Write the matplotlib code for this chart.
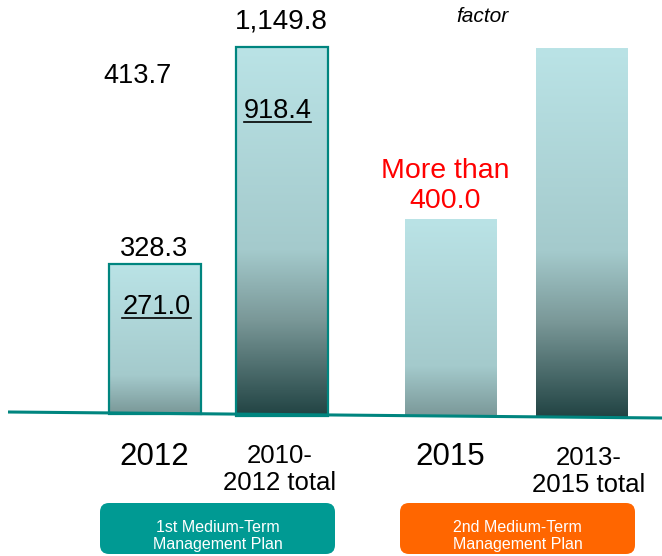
import numpy as np
import matplotlib
matplotlib.use("Agg")
import matplotlib.pyplot as plt
from matplotlib.colors import LinearSegmentedColormap
from matplotlib.patches import FancyBboxPatch
from matplotlib.lines import Line2D
from matplotlib.transforms import IdentityTransform

plt.rcParams['font.family'] = ['Liberation Sans', 'DejaVu Sans']

# chart data (bar heights as drawn in the picture, not to scale with labels)
categories = ["2012", "2010-\n2012 total", "2015", "2013-\n2015 total"]
bar_heights = [150, 369, 198, 370]
value_labels = ["328.3", "1,149.8", "", ""]
inner_labels = ["271.0", "918.4", "", ""]
plan_labels = ["1st Medium-Term\nManagement Plan", "2nd Medium-Term\nManagement Plan"]
target_label = "More than\n400.0"
side_label = "413.7"
note_label = "factor"

# layout (pixel-ish units, y measured up from the baseline)
x_pos = [154.5, 281.5, 451, 582]
bar_w = 92
has_border = [True, True, False, False]
grad_span = [0.74, 1.0, 0.74, 1.0]
TEAL = "#00857f"

def ypx(y):
    return 415 - y

fig = plt.figure(figsize=(6.62, 5.56), dpi=100)
ax = fig.add_axes([0, 0, 1, 1])
ax.set_xlim(0, 662)
ax.set_ylim(-141, 415)
ax.axis("off")

# slightly tilted baseline
line_x = [8, 662]
line_y = [ypx(412), ypx(418)]
bottoms = np.interp(x_pos, line_x, line_y) - 1

cmap = LinearSegmentedColormap.from_list(
    "bars", [(0.0, "#bae3e6"), (0.55, "#a4cacc"), (0.74, "#7a9898"), (1.0, "#214343")])

bars = ax.bar(x_pos, bar_heights, bar_w, bottom=bottoms, color="none",
              edgecolor=[TEAL if b else "none" for b in has_border], linewidth=1.6, zorder=3)
for rect, span in zip(bars, grad_span):
    x0, y0 = rect.get_x(), rect.get_y()
    grad = np.linspace(0, span, 256).reshape(-1, 1)
    ax.imshow(grad, cmap=cmap, vmin=0, vmax=1, aspect="auto", origin="upper",
              extent=[x0, x0 + rect.get_width(), y0, y0 + rect.get_height()], zorder=2)

ax.plot(line_x, line_y, color=TEAL, lw=2.2, zorder=4, solid_capstyle="butt")
ax.set_xlim(0, 662)
ax.set_ylim(-141, 415)

# numbers above/inside bars
ax.text(x_pos[0], ypx(256), value_labels[0], ha="center", va="baseline", fontsize=19.5)
ax.text(x_pos[1], ypx(29), value_labels[1], ha="center", va="baseline", fontsize=20)
ax.text(103, ypx(83), side_label, ha="left", va="baseline", fontsize=19.5)
under = [
    ax.text(x_pos[0] + 2, ypx(314), inner_labels[0], ha="center", va="baseline", fontsize=19.5, zorder=5),
    ax.text(x_pos[1] - 4, ypx(118), inner_labels[1], ha="center", va="baseline", fontsize=19.5, zorder=5),
]
ax.text(445, ypx(208), target_label, ha="center", va="baseline", fontsize=20.5,
        color="#ff0000", linespacing=1.2)
ax.text(482, ypx(22), note_label, ha="center", va="baseline", fontsize=15, style="italic")

# category labels
ax.text(x_pos[0], ypx(465), categories[0], ha="center", va="baseline", fontsize=22.5)
ax.text(x_pos[2] - 1, ypx(465), categories[2], ha="center", va="baseline", fontsize=22.5)
ax.text(x_pos[1] - 2, ypx(490), categories[1], ha="center", va="baseline", fontsize=18.5,
        linespacing=1.15, multialignment="center")
ax.text(x_pos[3] + 7, ypx(492), categories[3], ha="center", va="baseline", fontsize=18.5,
        linespacing=1.15, multialignment="center")

# plan boxes
for (x0, x1, col), lab in zip([(100, 335, "#009a93"), (400, 635, "#ff6600")], plan_labels):
    box = FancyBboxPatch((x0, ypx(554)), x1 - x0, 51,
                         boxstyle="round,pad=0,rounding_size=9", fc=col, ec="none", zorder=3)
    ax.add_patch(box)
    ax.text((x0 + x1) / 2, ypx(549), lab, ha="center", va="baseline", fontsize=11.5,
            color="white", linespacing=1.2, zorder=4)

# underline the inner numbers
fig.canvas.draw()
for t in under:
    bb = t.get_window_extent()
    yl = bb.y0 + 2
    fig.add_artist(Line2D([bb.x0, bb.x1], [yl, yl], color="black", lw=1.2,
                          transform=IdentityTransform(), zorder=6))

fig.savefig("out.png", dpi=100)
